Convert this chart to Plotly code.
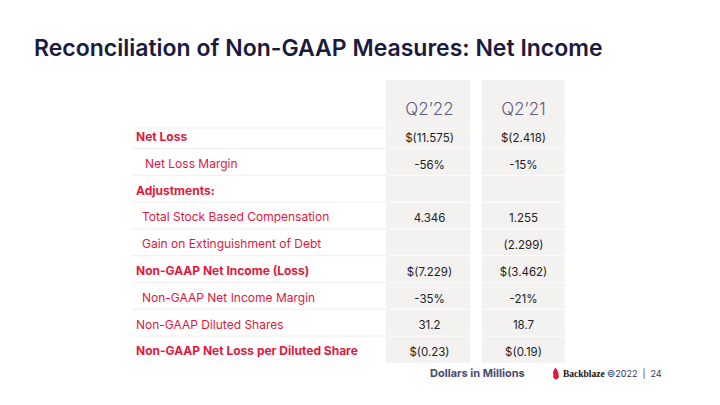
import plotly.graph_objects as go

# ---- data ----
title = "Reconciliation of Non-GAAP Measures: Net Income"
columns = ["Q2\u201922", "Q2\u201921"]
labels = [
    "Net Loss",
    "Net Loss Margin",
    "Adjustments:",
    "Total Stock Based Compensation",
    "Gain on Extinguishment of Debt",
    "Non-GAAP Net Income (Loss)",
    "Non-GAAP Net Income Margin",
    "Non-GAAP Diluted Shares",
    "Non-GAAP Net Loss per Diluted Share",
]
bold_rows = [True, False, True, False, False, True, False, False, True]
indent_rows = [0, 3, 0, 2, 2, 0, 2, 0, 0]
q2_22 = ["$(11.575)", "-56%", "", "4.346", "", "$(7.229)", "-35%", "31.2", "$(0.23)"]
q2_21 = ["$(2.418)", "-15%", "", "1.255", "(2.299)", "$(3.462)", "-21%", "18.7", "$(0.19)"]
values = [q2_22, q2_21]
footnote = "Dollars in Millions"
brand = "Backblaze"
page = "\u00a92022  |  24"

# ---- layout constants ----
FONT = "Inter"
RED = "#e2173d"
NAVY = "#1b1b3f"
HEAD = "#5d5d80"
GRAY = "#f3f2f1"
ROW0 = 138
STEP = 26.8
LABEL_X = 136
INDENT = 3
COL_X = [429.5, 523.5]
COL_W = [(386, 470), (482, 565)]

def row_y(i):
    return ROW0 + STEP * i

fig = go.Figure()
shapes = []

# column backgrounds
for x0, x1 in COL_W:
    shapes.append(dict(type="rect", xref="x", yref="y", x0=x0, x1=x1, y0=80, y1=363,
                       fillcolor=GRAY, line=dict(width=0), layer="below"))

# row separators
bounds = [128] + [row_y(i) + 10.5 for i in range(8)]
for b in bounds:
    shapes.append(dict(type="line", xref="x", yref="y", x0=132, x1=386, y0=b, y1=b,
                       line=dict(color="#efefef", width=1), layer="below"))
    for x0, x1 in COL_W:
        shapes.append(dict(type="line", xref="x", yref="y", x0=x0, x1=x1, y0=b, y1=b,
                           line=dict(color="#fbfbfa", width=1.2), layer="below"))

# logo flame
shapes.append(dict(type="path", xref="x", yref="y",
                   path="M 555.5 367.5 C 553 371 552.5 373 553.5 375 C 552.5 376.5 553.5 379 556 379.5 "
                        "C 558.5 379 559.5 376.5 558.5 375 C 559 373 557.5 370 555.5 367.5 Z",
                   fillcolor=RED, line=dict(width=0)))

# labels
for i, lab in enumerate(labels):
    fig.add_trace(go.Scatter(
        x=[LABEL_X + INDENT * indent_rows[i]], y=[row_y(i)], mode="text",
        text=[lab], textposition="middle right",
        textfont=dict(family=FONT, size=12, color=RED,
                      weight=700 if bold_rows[i] else 400),
        hoverinfo="skip", showlegend=False))

# values
for c, col in enumerate(values):
    ys = [row_y(i) + 1 for i in range(len(col)) if col[i]]
    ts = [v for v in col if v]
    fig.add_trace(go.Scatter(
        x=[COL_X[c]] * len(ts), y=ys, mode="text", text=ts,
        textposition="middle center",
        textfont=dict(family=FONT, size=11.5, color="#222222"),
        hoverinfo="skip", showlegend=False))

# column headers
fig.add_trace(go.Scatter(
    x=COL_X, y=[111, 111], mode="text", text=columns, textposition="middle center",
    textfont=dict(family=FONT, size=17, color=HEAD, weight=300), hoverinfo="skip", showlegend=False))

annotations = [
    dict(x=32, y=48, xref="x", yref="y", text=title, showarrow=False, xanchor="left",
         yanchor="middle", font=dict(family=FONT, size=23, color=NAVY, weight=600)),
    dict(x=477, y=373, xref="x", yref="y", text=footnote, showarrow=False, xanchor="center",
         yanchor="middle", font=dict(family=FONT, size=11, color="#4a4a6c", weight=700)),
    dict(x=561, y=374, xref="x", yref="y", text=brand, showarrow=False, xanchor="left",
         yanchor="middle", font=dict(family="Liberation Serif", size=9.5, color="#111111", weight=700)),
    dict(x=605, y=373, xref="x", yref="y", text=page, showarrow=False, xanchor="left",
         yanchor="middle", font=dict(family=FONT, size=9, color="#333355")),
]

fig.update_layout(
    width=720, height=405, autosize=False,
    margin=dict(l=0, r=0, t=0, b=0),
    paper_bgcolor="white", plot_bgcolor="white",
    xaxis=dict(range=[0, 720], visible=False, fixedrange=True),
    yaxis=dict(range=[405, 0], visible=False, fixedrange=True),
    shapes=shapes, annotations=annotations, showlegend=False,
)

fig.write_html("out.html", config={"displayModeBar": False},
               post_script="document.body.style.margin='0';document.body.style.overflow='hidden';")
